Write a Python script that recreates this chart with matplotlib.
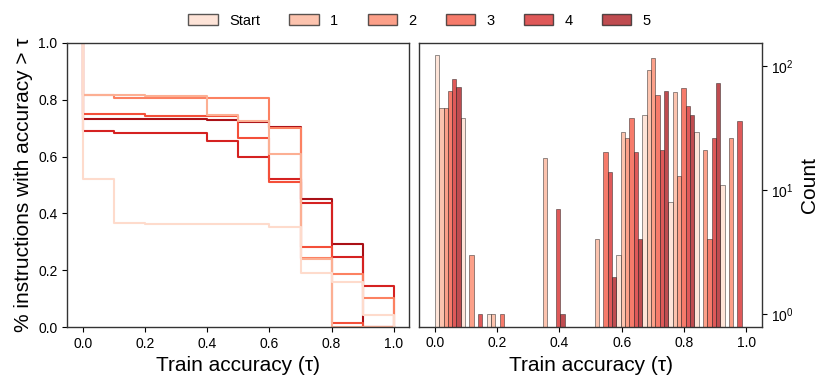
import numpy as np
import matplotlib
matplotlib.use('Agg')
import matplotlib.pyplot as plt
import seaborn as sns
from matplotlib.patches import Patch
from matplotlib.ticker import NullLocator

plt.rcParams['font.family'] = ['Liberation Sans', 'DejaVu Sans']
plt.rcParams['mathtext.fontset'] = 'custom'
plt.rcParams['mathtext.rm'] = 'Liberation Sans'
plt.rcParams['mathtext.it'] = 'Liberation Sans:italic'
plt.rc('xtick', labelsize=10)
plt.rc('ytick', labelsize=10)
plt.rc('axes', labelsize=15, linewidth=1.0, edgecolor='#333333')

series = ['Start', '1', '2', '3', '4', '5']
colors = sns.color_palette('Reds', len(series))

# left panel: fraction of instructions with accuracy > tau (first point = 1.0 at tau 0)
tau = [0.0, 0.0, 0.1, 0.2, 0.3, 0.4, 0.5, 0.6, 0.7, 0.8, 0.9, 1.0]
frac_start = [1.0, 0.52, 0.366, 0.362, 0.362, 0.362, 0.362, 0.352, 0.192, 0.16, 0.044, 0.0]
frac_1 = [1.0, 0.816, 0.816, 0.813, 0.813, 0.745, 0.725, 0.61, 0.238, 0.0, 0.0, 0.0]
frac_2 = [1.0, 0.816, 0.806, 0.806, 0.806, 0.806, 0.806, 0.70, 0.244, 0.188, 0.104, 0.0]
frac_3 = [1.0, 0.748, 0.748, 0.744, 0.744, 0.744, 0.664, 0.512, 0.28, 0.016, 0.0, 0.0]
frac_4 = [1.0, 0.688, 0.684, 0.684, 0.684, 0.656, 0.60, 0.52, 0.436, 0.248, 0.144, 0.0]
frac_5 = [1.0, 0.732, 0.732, 0.732, 0.732, 0.728, 0.72, 0.704, 0.452, 0.292, 0.0, 0.0]
fracs = [frac_start, frac_1, frac_2, frac_3, frac_4, frac_5]

# right panel: number of instructions at each train accuracy level
acc_levels = [0.0, 0.1, 0.2, 0.3, 0.4, 0.5, 0.6, 0.7, 0.8, 0.9, 1.0]
count_start = [121, 38, 1, 0, 0, 0, 3, 40, 8, 29, 11]
count_1 = [46, 0, 1, 0, 18, 4, 29, 92, 61, 0, 0]
count_2 = [46, 3, 0, 0, 0, 0, 26, 115, 13, 21, 26]
count_3 = [63, 0, 1, 0, 0, 20, 38, 58, 66, 4, 0]
count_4 = [78, 1, 0, 0, 7, 14, 20, 21, 47, 26, 36]
count_5 = [67, 0, 0, 0, 1, 2, 4, 63, 40, 73, 0]
counts = [count_start, count_1, count_2, count_3, count_4, count_5]

fig = plt.figure(figsize=(8.31, 3.88), dpi=100)
ax1 = fig.add_axes([0.081, 0.157, 0.4116, 0.7327])
ax2 = fig.add_axes([0.5046, 0.158, 0.412, 0.7317])

# darker iterations drawn first so the lighter ones sit on top
for i in reversed(range(len(series))):
    ax1.step(tau, fracs[i], where='post', color=colors[i], lw=1.5)
ax1.set_xlim(-0.05, 1.05)
ax1.set_ylim(0, 1.0)
ax1.set_xticks(np.arange(0, 1.01, 0.2))
ax1.set_yticks(np.arange(0, 1.01, 0.2))
ax1.set_xlabel('Train accuracy (τ)')
ax1.set_ylabel('% instructions with accuracy > τ')

bins = np.linspace(0, 1, 13)
ax2.hist([acc_levels] * len(series), bins=bins, weights=counts, color=colors,
         rwidth=1.0, alpha=0.75, edgecolor='#222222', linewidth=0.45, log=True)
ax2.set_xlim(-0.05, 1.05)
ax2.set_ylim(0.79, 153)
ax2.set_xticks(np.arange(0, 1.01, 0.2))
ax2.yaxis.set_minor_locator(NullLocator())
ax2.yaxis.tick_right()
ax2.yaxis.set_label_position('right')
ax2.set_xlabel('Train accuracy (τ)')
ax2.set_ylabel('Count')

for ax in (ax1, ax2):
    ax.tick_params(length=3.5, width=0.8)

handles = [Patch(facecolor=c, edgecolor='#222222', alpha=0.75, linewidth=1.0)
           for c in colors]
fig.legend(handles, series, loc='center', bbox_to_anchor=(0.505, 0.947), ncol=6,
           frameon=False, fontsize=10.5)

fig.savefig('out.png', dpi=100)
